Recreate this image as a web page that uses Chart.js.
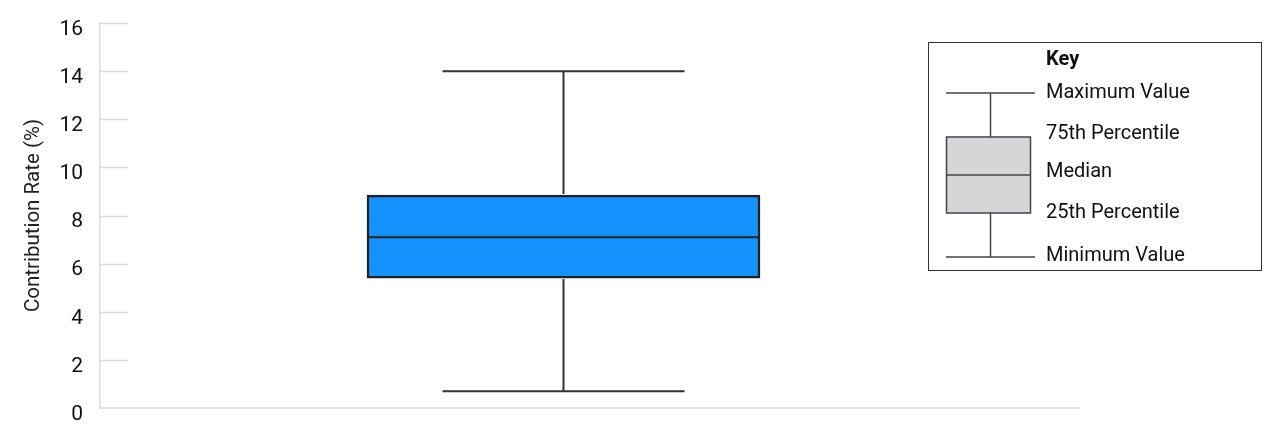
<!DOCTYPE html>
<html>
<head>
<meta charset="utf-8">
<script src="https://cdn.jsdelivr.net/npm/chart.js@4"></script>
<style>
  html, body { margin: 0; padding: 0; background: #fff; }
  #wrap { width: 1280px; height: 433px; }
</style>
</head>
<body>
<div id="wrap"><canvas id="boxChart"></canvas></div>
<script>
// box plot summary values (Contribution Rate, %)
const categories = ['Contribution Rate'];
const minValues = [0.7];
const q1Values = [5.4];
const medianValues = [7.1];
const q3Values = [8.85];
const maxValues = [14.0];
const yTicks = [0, 2, 4, 6, 8, 10, 12, 14, 16];
const keyTitle = 'Key';
const keyLabels = ['Maximum Value', '75th Percentile', 'Median', '25th Percentile', 'Minimum Value'];

const FONT = 'Roboto, "Noto Sans", sans-serif';
const AXIS_GRAY = '#dcdcdc';

// whiskers + median drawn on top of the floating bar
const whiskerPlugin = {
    id: 'whiskers',
    afterDatasetsDraw(chart) {
        const ctx = chart.ctx;
        const y = chart.scales.y;
        const meta = chart.getDatasetMeta(0);
        ctx.save();
        meta.data.forEach((bar, i) => {
            const cx = bar.x;
            const half = bar.width / 2;
            const cap = 121;
            const yMin = y.getPixelForValue(minValues[i]);
            const yMax = y.getPixelForValue(maxValues[i]);
            const yQ1 = y.getPixelForValue(q1Values[i]);
            const yQ3 = y.getPixelForValue(q3Values[i]);
            const yMed = y.getPixelForValue(medianValues[i]);
            ctx.strokeStyle = '#333';
            ctx.lineWidth = 2;
            ctx.beginPath();
            ctx.moveTo(cx, yMax); ctx.lineTo(cx, yQ3 - 1);
            ctx.moveTo(cx, yQ1 + 1); ctx.lineTo(cx, yMin);
            ctx.moveTo(cx - cap, yMax); ctx.lineTo(cx + cap, yMax);
            ctx.moveTo(cx - cap, yMin); ctx.lineTo(cx + cap, yMin);
            ctx.stroke();
            ctx.strokeStyle = '#222';
            ctx.lineWidth = 2;
            ctx.beginPath();
            ctx.moveTo(cx - half, yMed); ctx.lineTo(cx + half, yMed);
            ctx.stroke();
        });
        ctx.restore();
    }
};

// short tick stubs and the long baseline
const axisPlugin = {
    id: 'axisStubs',
    beforeDatasetsDraw(chart) {
        const ctx = chart.ctx;
        const area = chart.chartArea;
        const y = chart.scales.y;
        ctx.save();
        ctx.strokeStyle = AXIS_GRAY;
        ctx.lineWidth = 1.5;
        ctx.beginPath();
        yTicks.forEach(t => {
            if (t === 0) return;
            const py = Math.round(y.getPixelForValue(t)) + 0.5;
            ctx.moveTo(area.left, py); ctx.lineTo(area.left + 28, py);
        });
        const by = y.getPixelForValue(0);
        ctx.moveTo(area.left, by); ctx.lineTo(chart.width - 200, by);
        ctx.stroke();
        ctx.restore();
    }
};

// hand-drawn key in the upper right
const keyPlugin = {
    id: 'boxKey',
    afterDraw(chart) {
        const ctx = chart.ctx;
        ctx.save();
        ctx.strokeStyle = '#333';
        ctx.lineWidth = 1;
        ctx.strokeRect(928.5, 42.5, 333, 228);

        const gx = 990.5;
        const rows = [93, 137, 175, 213, 257];
        ctx.strokeStyle = '#444';
        ctx.lineWidth = 1.5;
        ctx.beginPath();
        ctx.moveTo(946, rows[0]); ctx.lineTo(1035, rows[0]);
        ctx.moveTo(946, rows[4]); ctx.lineTo(1035, rows[4]);
        ctx.moveTo(gx, rows[0]); ctx.lineTo(gx, rows[1]);
        ctx.moveTo(gx, rows[3]); ctx.lineTo(gx, rows[4]);
        ctx.stroke();
        ctx.fillStyle = '#d6d6d8';
        ctx.fillRect(946.5, rows[1], 84, rows[3] - rows[1]);
        ctx.strokeRect(946.5, rows[1], 84, rows[3] - rows[1]);
        ctx.beginPath();
        ctx.moveTo(946.5, rows[2]); ctx.lineTo(1030.5, rows[2]);
        ctx.stroke();

        ctx.fillStyle = '#111';
        ctx.textBaseline = 'middle';
        ctx.textAlign = 'left';
        ctx.font = 'bold 20px ' + FONT;
        ctx.fillText(keyTitle, 1046, 60);
        ctx.font = '20px ' + FONT;
        const textY = [93, 134, 172, 213, 256];
        keyLabels.forEach((lbl, i) => ctx.fillText(lbl, 1046, textY[i]));
        ctx.restore();
    }
};

const ctx = document.getElementById('boxChart').getContext('2d');
const boxChart = new Chart(ctx, {
    type: 'bar',
    data: {
        labels: categories,
        datasets: [{
            label: 'Contribution Rate (%)',
            data: q1Values.map((q1, i) => [q1, q3Values[i]]),
            backgroundColor: '#1493ff',
            borderColor: '#222',
            borderWidth: 2.5,
            borderSkipped: false,
            barThickness: 393
        }]
    },
    options: {
        responsive: true,
        maintainAspectRatio: false,
        animation: false,
        layout: { padding: { top: 23, right: 253, bottom: 25, left: 0 } },
        plugins: {
            legend: { display: false },
            tooltip: { enabled: false }
        },
        scales: {
            x: { display: false },
            y: {
                min: 0,
                max: 16,
                afterFit: s => { s.width = 100; s.paddingTop = 0; s.paddingBottom = 0; },
                afterBuildTicks: s => { s.ticks = yTicks.map(v => ({ value: v })); },
                grid: { display: false, drawTicks: false },
                border: { display: true, color: AXIS_GRAY, width: 1.5 },
                ticks: {
                    padding: 17,
                    labelOffset: 6.5,
                    color: '#111',
                    font: { family: FONT, size: 21 }
                },
                title: {
                    display: true,
                    text: 'Contribution Rate (%)',
                    color: '#222',
                    padding: { top: 22, bottom: 0 },
                    font: { family: FONT, size: 20.5 }
                }
            }
        }
    },
    plugins: [axisPlugin, whiskerPlugin, keyPlugin]
});
</script>
</body>
</html>
